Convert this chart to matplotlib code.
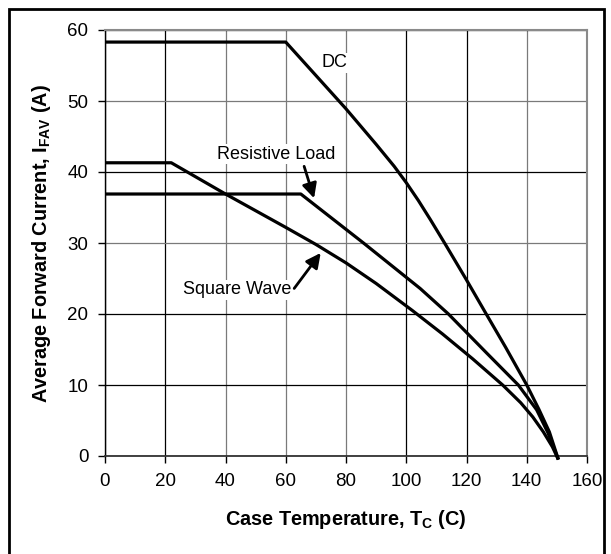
import numpy as np
import matplotlib
matplotlib.use("Agg")
from matplotlib import pyplot as plt
from matplotlib.patches import Rectangle

# values
dc_temp = [0, 60, 80, 90, 96, 100, 104, 108, 113, 120, 126, 133, 140, 144, 147.5, 150.5]
dc_curr = [58.3, 58.3, 48.9, 43.9, 40.8, 38.5, 36.0, 33.3, 29.8, 24.8, 20.4, 15.3, 10, 6.6, 3.4, -0.5]

res_temp = [0, 65, 85.8, 104.6, 114, 120, 126.7, 137.2, 143.3, 147, 150.5]
res_curr = [36.9, 36.9, 30, 23.6, 20, 17.4, 14.5, 10, 6.5, 3.3, -0.5]

sq_temp = [0, 22, 40, 60, 70, 80, 90, 102, 112, 122, 132, 138, 142, 145.5, 148.5, 150.5]
sq_curr = [41.3, 41.3, 36.9, 32.2, 29.8, 27.2, 24.3, 20.5, 17.2, 13.7, 10, 7.5, 5.5, 3.4, 1.3, -0.5]

x_ticks = [0, 20, 40, 60, 80, 100, 120, 140, 160]
y_ticks = [0, 10, 20, 30, 40, 50, 60]

plt.rcParams['font.family'] = ['Liberation Sans', 'DejaVu Sans']
plt.rcParams['mathtext.fontset'] = 'custom'
plt.rcParams['mathtext.rm'] = 'Liberation Sans'
plt.rcParams['mathtext.bf'] = 'Liberation Sans:bold'


def main():
    fig = plt.figure(figsize=(6.11, 5.54), dpi=100)
    fig.patches.append(Rectangle((8.5 / 611, -0.05), 595 / 611, 0.05 + 545.5 / 554,
                                 transform=fig.transFigure, fill=False,
                                 edgecolor='black', lw=2))
    ax = fig.add_axes([105 / 611, 98 / 554, 482 / 611, 426 / 554])

    ax.set_xlim(0, 160)
    ax.set_ylim(0, 60)
    ax.set_xticks(x_ticks)
    ax.set_yticks(y_ticks)
    ax.tick_params(direction='out', length=5, width=1, labelsize=13.5, pad=7, color='black')

    ax.grid(True, lw=0.9)
    # the scanned grid is a mix of black and grey lines
    xg = ['#000000', '#000000', '#7a7a7a', '#7a7a7a', '#7a7a7a', '#000000', '#000000', '#7a7a7a', '#000000']
    yg = ['#000000', '#000000', '#000000', '#7a7a7a', '#000000', '#7a7a7a', '#000000']
    for line, c in zip(ax.get_xgridlines(), xg):
        line.set_color(c)
    for line, c in zip(ax.get_ygridlines(), yg):
        line.set_color(c)
    ax.set_axisbelow(True)

    for side in ['top', 'right']:
        ax.spines[side].set_color('#8a8a8a')
        ax.spines[side].set_linewidth(1.5)
    ax.spines['left'].set_linewidth(1)
    ax.spines['bottom'].set_linewidth(1.3)
    ax.spines['bottom'].set_color('#333333')

    kw = dict(color='black', lw=2.3, solid_capstyle='butt', solid_joinstyle='round',
              clip_on=False, zorder=3)
    ax.plot(dc_temp, dc_curr, **kw)
    ax.plot(res_temp, res_curr, **kw)
    ax.plot(sq_temp, sq_curr, **kw)

    box = dict(facecolor='white', edgecolor='none', pad=1)
    ax.text(76.3, 55.4, 'DC', fontsize=13, ha='center', va='center', bbox=box, zorder=2)
    ax.text(56.9, 42.5, 'Resistive Load', fontsize=13, ha='center', va='center', bbox=box, zorder=2)
    ax.text(44, 23.4, 'Square Wave', fontsize=13, ha='center', va='center', bbox=box, zorder=2)

    arrow = dict(arrowstyle='-|>', color='black', lw=2, mutation_scale=22, shrinkA=0, shrinkB=0)
    ax.annotate('', xy=(69.4, 36.3), xytext=(66.1, 40.8), arrowprops=arrow, zorder=4)
    ax.annotate('', xy=(71.6, 28.6), xytext=(62.8, 23.6), arrowprops=arrow, zorder=4)

    ax.set_xlabel(r'Case Temperature, $\mathbf{T_C}$ (C)', fontsize=14.3, fontweight='bold', labelpad=13)
    ax.set_ylabel(r'Average Forward Current, $\mathbf{I_{FAV}}$ (A)', fontsize=14.3, fontweight='bold', labelpad=10)

    fig.savefig('out.png', dpi=100)


if __name__ == "__main__":
    main()
